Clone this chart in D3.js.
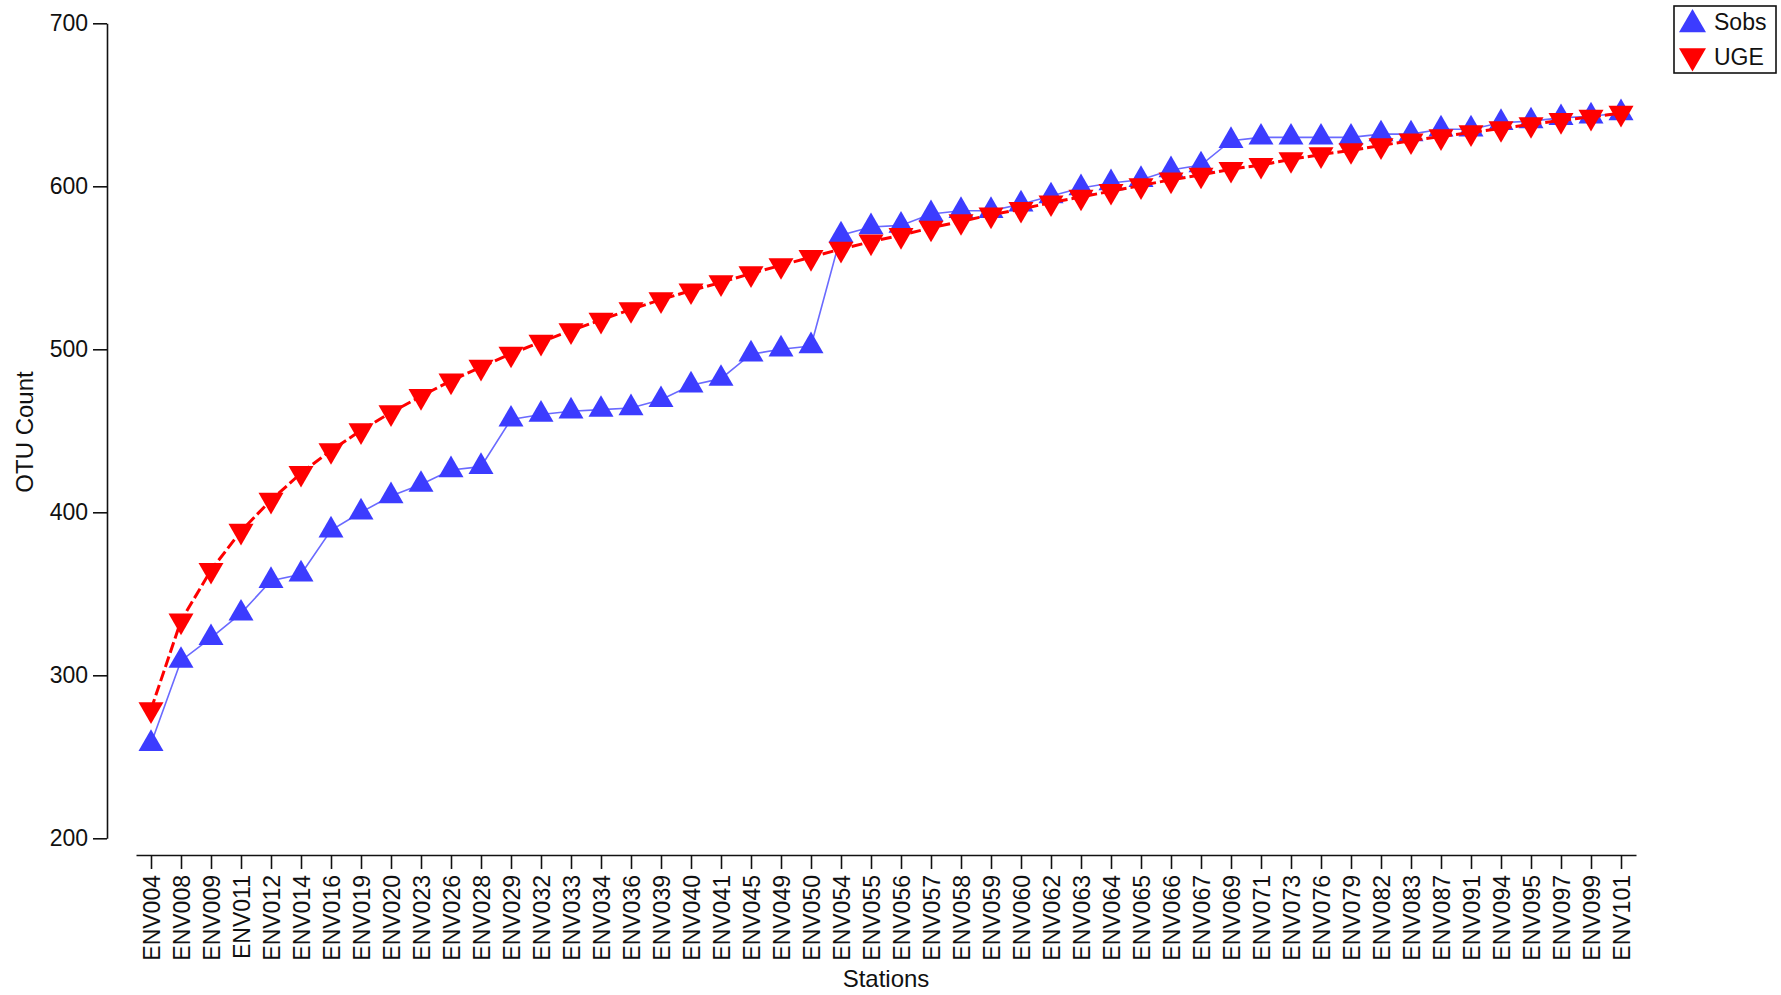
<!DOCTYPE html>
<html>
<head>
<meta charset="utf-8">
<script src="https://cdn.jsdelivr.net/npm/d3@7"></script>
<style>
  html, body { margin: 0; padding: 0; background: #fff; }
  svg { display: block; font-family: "Liberation Sans", Arial, sans-serif; }
</style>
</head>
<body>
<svg id="chart" width="1781" height="995"></svg>
<script>
const stations = ["ENV004","ENV008","ENV009","ENV011","ENV012","ENV014","ENV016","ENV019","ENV020","ENV023",
  "ENV026","ENV028","ENV029","ENV032","ENV033","ENV034","ENV036","ENV039","ENV040","ENV041",
  "ENV045","ENV049","ENV050","ENV054","ENV055","ENV056","ENV057","ENV058","ENV059","ENV060",
  "ENV062","ENV063","ENV064","ENV065","ENV066","ENV067","ENV069","ENV071","ENV073","ENV076",
  "ENV079","ENV082","ENV083","ENV087","ENV091","ENV094","ENV095","ENV097","ENV099","ENV101"];

const sobs = [258, 309, 323, 338, 358, 362, 389, 400, 410, 417,
  426, 428, 457, 460, 462, 463, 464, 469, 478, 482,
  497, 500, 502, 570, 575, 576, 583, 585, 585, 589,
  594, 599, 602, 604, 610, 613, 628, 630, 630, 630,
  630, 632, 632, 635, 635, 639, 640, 642, 643, 645];

const uge = [279, 333.5, 364.5, 388.5, 407.5, 424, 438, 450.2, 461.2, 471.2,
  480.7, 489.1, 497.2, 504.5, 511.5, 518, 524.5, 530.5, 536, 541,
  546.5, 551.5, 556.5, 561.5, 566, 570, 574.5, 578.5, 582.5, 586,
  590, 593.5, 597, 600.5, 604, 607, 610.5, 613, 616.5, 619.5,
  622, 625, 628, 630.5, 633, 635.5, 638, 640.5, 642.5, 645];

const yTicks = [200, 300, 400, 500, 600, 700];
const seriesNames = ["Sobs", "UGE"];

const svg = d3.select("#chart");

const x = d3.scalePoint().domain(stations).range([136, 1636]).padding(0.5);
const y = d3.scaleLinear().domain([200, 700]).range([838.3, 23.3]);

const textColor = "#111";
const fontTick = 23;

// triangle path centered at centroid
function tri(s, up) {
  const h = s * Math.sqrt(3) / 2;
  if (up) return `M0,${-2*h/3}L${s/2},${h/3}L${-s/2},${h/3}Z`;
  return `M0,${2*h/3}L${s/2},${-h/3}L${-s/2},${-h/3}Z`;
}

// Y axis
const yAxis = svg.append("g")
  .attr("transform", "translate(107,0)")
  .call(d3.axisLeft(y).tickValues(yTicks).tickSize(14).tickSizeOuter(0).tickPadding(5));
yAxis.select(".domain").attr("stroke", "#111").attr("stroke-width", 1.6);
yAxis.selectAll(".tick line").attr("stroke", "#111").attr("stroke-width", 1.6);
yAxis.selectAll(".tick text").attr("font-size", fontTick).attr("fill", textColor)
  .attr("font-family", "Liberation Sans, Arial, sans-serif");

// X axis
const xAxis = svg.append("g")
  .attr("transform", "translate(0,855)")
  .call(d3.axisBottom(x).tickSize(14).tickSizeOuter(0));
xAxis.select(".domain").attr("stroke", "#111").attr("stroke-width", 1.6);
xAxis.selectAll(".tick line").attr("stroke", "#111").attr("stroke-width", 1.6);
xAxis.selectAll(".tick text")
  .attr("font-size", fontTick).attr("fill", textColor)
  .attr("font-family", "Liberation Sans, Arial, sans-serif")
  .attr("text-anchor", "end")
  .attr("x", 0).attr("y", 0).attr("dy", "0.35em")
  .attr("transform", "translate(0,20) rotate(-90)");

// Axis titles
svg.append("text")
  .attr("transform", "translate(33,432) rotate(-90)")
  .attr("text-anchor", "middle")
  .attr("font-size", 24).attr("fill", textColor)
  .text("OTU Count");

svg.append("text")
  .attr("x", 886).attr("y", 987)
  .attr("text-anchor", "middle")
  .attr("font-size", 24).attr("fill", textColor)
  .text("Stations");

const blueLine = "#6a6aff", blueFill = "#3c3cff";
const red = "#ff0000";

const line = d3.line().x((d, i) => x(stations[i])).y(d => y(d));

// Sobs
svg.append("path").datum(sobs)
  .attr("d", line).attr("fill", "none")
  .attr("stroke", blueLine).attr("stroke-width", 1.6);
svg.append("g").selectAll("path").data(sobs).join("path")
  .attr("d", tri(25, true))
  .attr("transform", (d, i) => `translate(${x(stations[i])},${y(d)})`)
  .attr("fill", blueFill);

// UGE
svg.append("path").datum(uge)
  .attr("d", line).attr("fill", "none")
  .attr("stroke", red).attr("stroke-width", 3)
  .attr("stroke-dasharray", "11,4");
svg.append("g").selectAll("path").data(uge).join("path")
  .attr("d", tri(25, false))
  .attr("transform", (d, i) => `translate(${x(stations[i])},${y(d)})`)
  .attr("fill", red);

// Legend
const lg = svg.append("g");
lg.append("rect").attr("x", 1674).attr("y", 6).attr("width", 102).attr("height", 67)
  .attr("fill", "#fff").attr("stroke", "#111").attr("stroke-width", 1.6);
lg.append("path").attr("d", tri(27, true)).attr("transform", "translate(1692.5,24.5)").attr("fill", blueFill);
lg.append("path").attr("d", tri(27, false)).attr("transform", "translate(1692.5,56)").attr("fill", red);
lg.selectAll("text.lg").data(seriesNames).join("text")
  .attr("class", "lg")
  .attr("x", 1714).attr("y", (d, i) => 30 + i * 35)
  .attr("font-size", 23).attr("fill", textColor)
  .text(d => d);
</script>
</body>
</html>
